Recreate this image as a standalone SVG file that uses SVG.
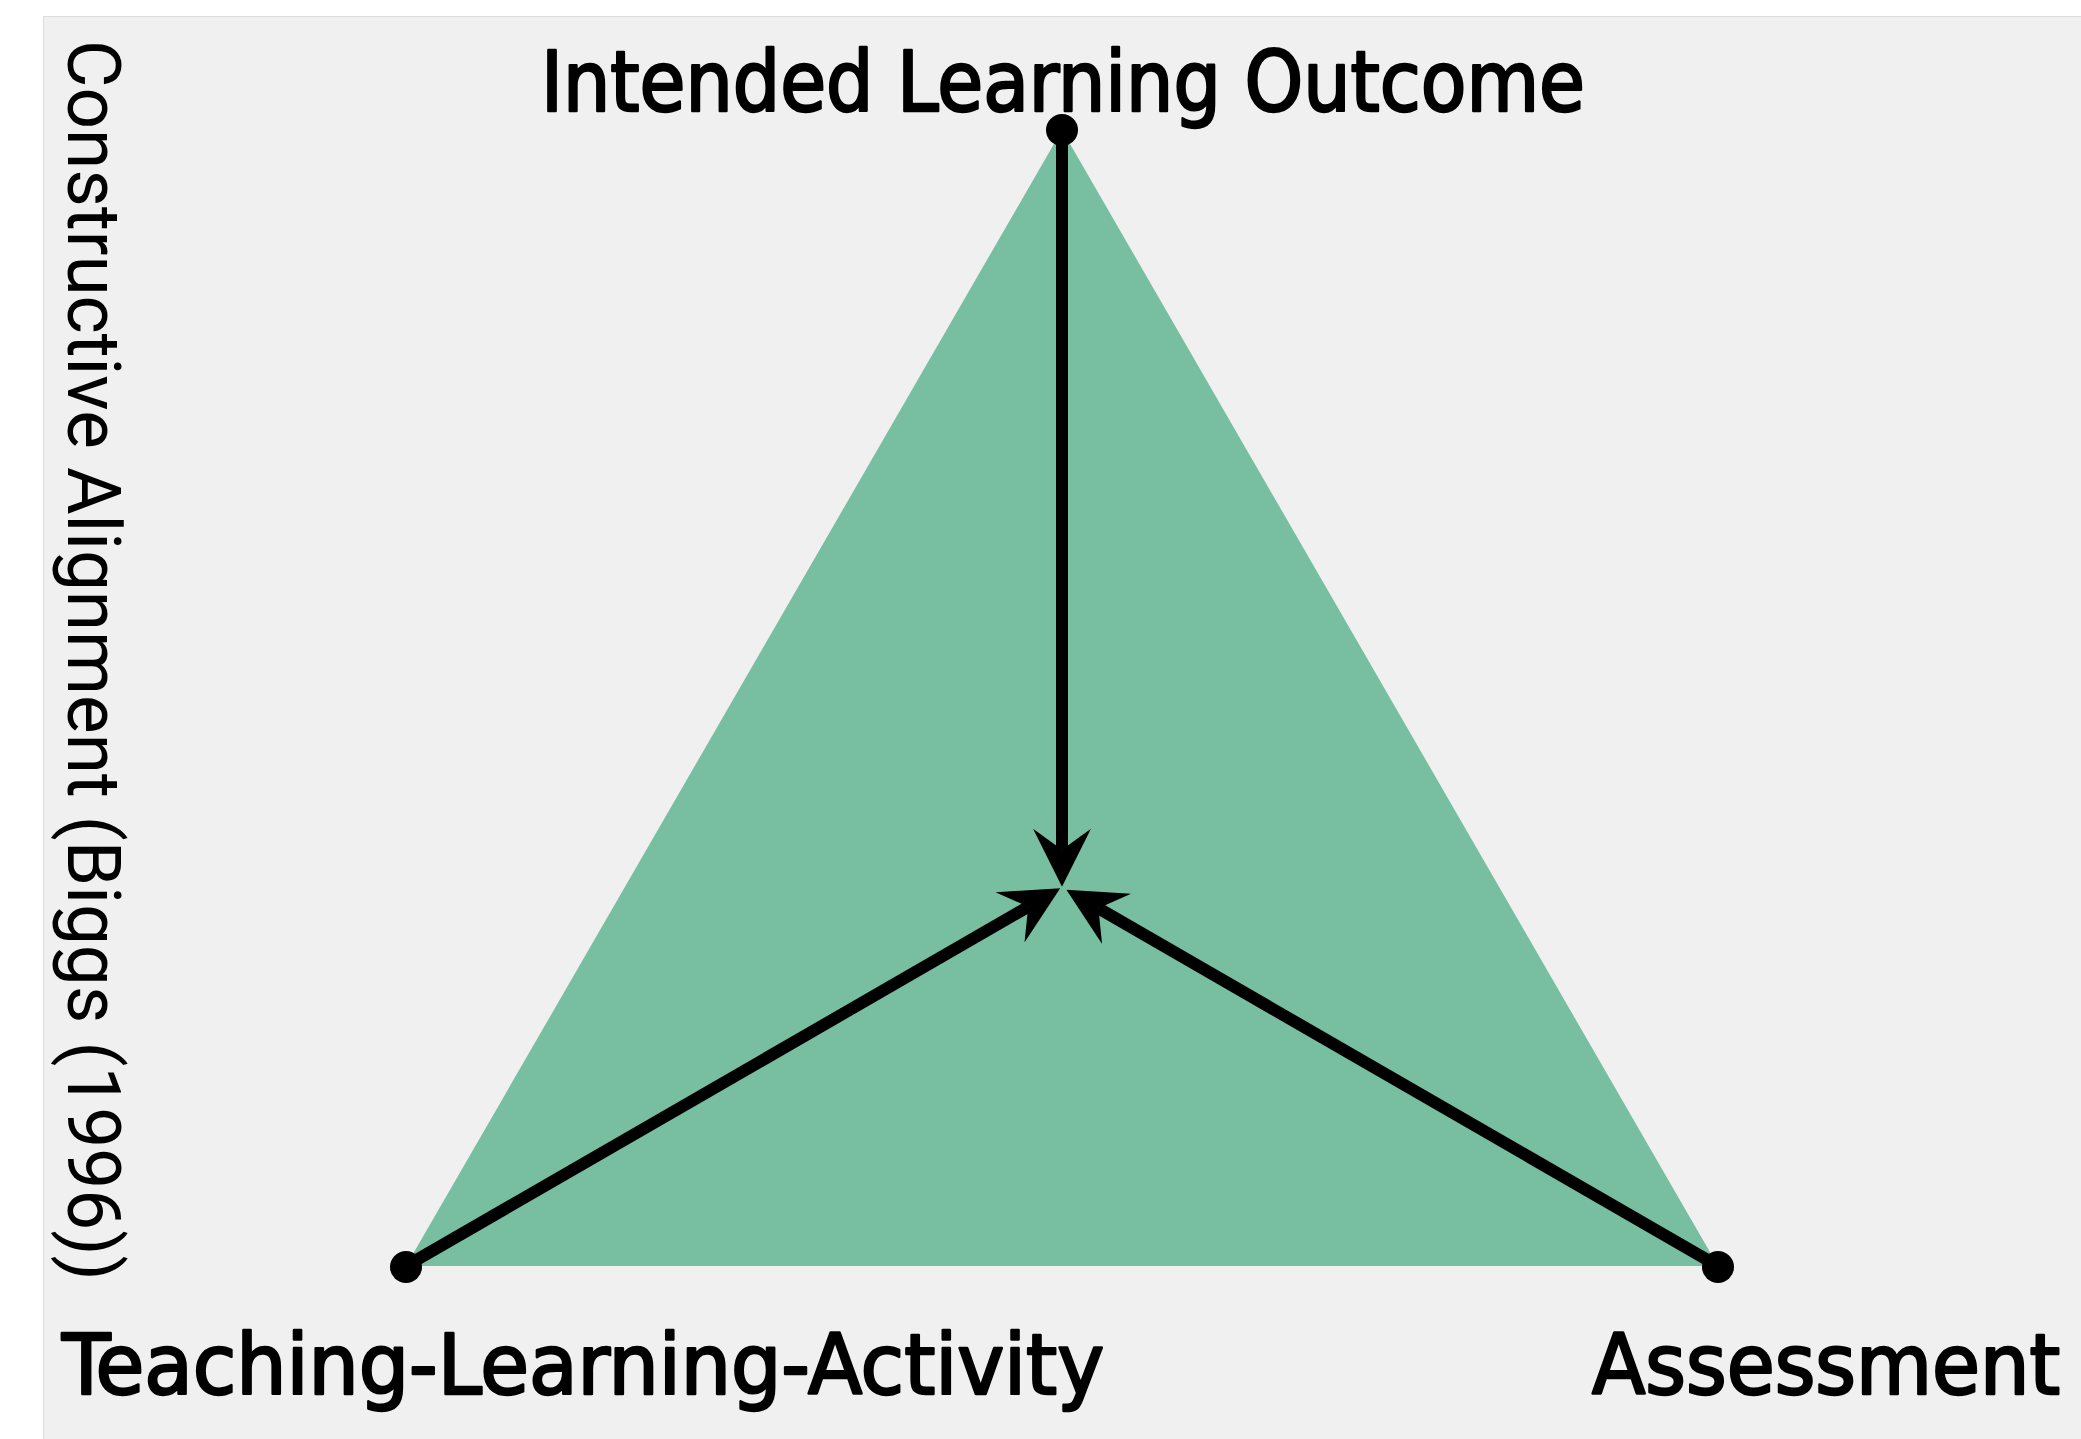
<svg xmlns="http://www.w3.org/2000/svg" width="2081" height="1439" viewBox="0 0 2081 1439">
  <defs>
    <style>
      .label { font-family: "Liberation Sans Narrow", "DejaVu Sans Condensed", "Roboto", sans-serif; font-stretch: condensed; font-size: 84px; fill: #000; stroke: #000; stroke-width: 2.4; stroke-linejoin: round; }
      .side { font-family: "Roboto", "Open Sans", sans-serif; font-size: 74px; fill: #000; }
      .edge { stroke: #000; stroke-width: 12; fill: none; }
      .dot { fill: #000; }
    </style>
    <!-- barbed arrowhead; reference point sits at the notch where the shaft ends -->
    <marker id="head" viewBox="0 0 58 58" markerUnits="userSpaceOnUse" markerWidth="58" markerHeight="58" refX="21" refY="29" orient="auto">
      <path d="M58,29 L0,0 L21,29 L0,58 Z" fill="#000"/>
    </marker>
  </defs>

  <!-- panel -->
  <rect x="0" y="0" width="2081" height="1439" fill="#ffffff"/>
  <rect x="43.5" y="16.5" width="2050" height="1440" fill="#f0f0f0" stroke="#dcdcdc" stroke-width="1"/>

  <!-- alignment triangle -->
  <polygon id="triangle" points="1062,130 406,1266 1718,1266" fill="#78bfa2"/>

  <g id="connectors">
    <line class="edge" x1="1062" y1="130" x2="1062" y2="849.7" marker-end="url(#head)"/>
    <line class="edge" x1="406" y1="1266" x2="1028.2" y2="906.8" marker-end="url(#head)"/>
    <line class="edge" x1="1718" y1="1266" x2="1098.4" y2="908.3" marker-end="url(#head)"/>
  </g>

  <g id="node-outcome">
    <circle class="dot" cx="1062" cy="130" r="16"/>
    <text class="label" x="541" y="111" textLength="1044" lengthAdjust="spacingAndGlyphs">Intended Learning Outcome</text>
  </g>

  <g id="node-activity">
    <circle class="dot" cx="406" cy="1267" r="16"/>
    <text class="label" x="62" y="1394" textLength="1042" lengthAdjust="spacingAndGlyphs">Teaching-Learning-Activity</text>
  </g>

  <g id="node-assessment">
    <circle class="dot" cx="1718" cy="1267" r="16"/>
    <text class="label" x="1592" y="1394" textLength="468" lengthAdjust="spacingAndGlyphs">Assessment</text>
  </g>

  <g id="title">
    <text class="side" transform="translate(68,40) rotate(90)" x="0" y="0" textLength="1241" lengthAdjust="spacingAndGlyphs">Constructive Alignment (Biggs (1996))</text>
  </g>
</svg>
